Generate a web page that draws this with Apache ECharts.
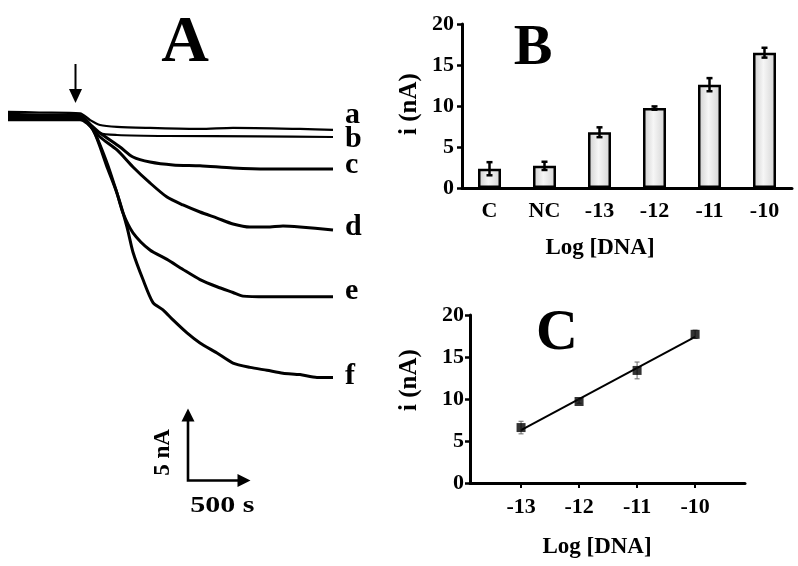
<!DOCTYPE html>
<html><head><meta charset="utf-8">
<script src="https://cdn.jsdelivr.net/npm/echarts@6/dist/echarts.min.js"></script>
<style>html,body{margin:0;padding:0;background:#fff}#c{width:798px;height:566px}</style>
</head><body><div id="c"></div>
<script>
const FONT = '"Liberation Serif","Times New Roman",serif';

// ---------- Panel A: amperometric traces [time (s), current change (nA)] ----------
const traceNames = ['a', 'b', 'c', 'd', 'e', 'f'];
const traceA = [[0,0.25],[250,0.2],[576,0.15],[656,-0.32],[736,-0.67],[872,-0.8],[1136,-0.87],[1536,-0.94],[1800,-0.87],[2336,-0.94],[2600,-1.0]];
const traceB = [[0,0.1],[300,0.05],[576,0],[632,-0.46],[736,-1.22],[872,-1.36],[1272,-1.43],[2000,-1.45],[2600,-1.5]];
const traceC = [[0,0],[576,0],[656,-0.6],[736,-1.22],[896,-2.19],[1000,-2.89],[1136,-3.24],[1320,-3.44],[1536,-3.5],[1800,-3.65],[2072,-3.72],[2336,-3.72],[2600,-3.72]];
const traceD = [[0,-0.1],[576,-0.1],[656,-0.7],[736,-1.5],[872,-2.4],[1000,-3.58],[1136,-4.69],[1272,-5.67],[1400,-6.22],[1536,-6.71],[1672,-7.13],[1800,-7.54],[1936,-7.75],[2072,-7.75],[2200,-7.68],[2336,-7.75],[2600,-7.96]];
const traceE = [[0,-0.2],[576,-0.2],[680,-1.0],[792,-3.3],[872,-5.4],[920,-6.78],[1000,-8.15],[1136,-9.35],[1272,-10.0],[1400,-10.7],[1536,-11.4],[1672,-11.9],[1800,-12.3],[1880,-12.55],[2072,-12.6],[2336,-12.6],[2600,-12.6]];
const traceF = [[0,-0.3],[576,-0.3],[680,-1.0],[792,-3.58],[872,-5.4],[952,-7.75],[1000,-9.5],[1080,-11.4],[1160,-13.0],[1240,-13.5],[1320,-14.2],[1432,-15.1],[1536,-15.8],[1672,-16.5],[1800,-17.2],[1936,-17.5],[2072,-17.7],[2200,-17.9],[2336,-18.0],[2472,-18.2],[2600,-18.2]];
const tracesA = [traceA, traceB, traceC, traceD, traceE, traceF];
const injectionTime = 540;      // s, arrow
const scaleBarTime = 500;       // s
const scaleBarCurrent = 5;      // nA

// ---------- Panel B: bar chart ----------
const catsB = ['C', 'NC', '-13', '-12', '-11', '-10'];
const valsB = [2.35, 2.7, 6.8, 9.75, 12.6, 16.5];
const errB  = [0.8, 0.5, 0.6, 0.2, 0.8, 0.6];

// ---------- Panel C: calibration ----------
const logC  = [-13, -12, -11, -10];
const valsC = [6.6, 9.7, 13.4, 17.7];
const errC  = [0.75, 0.2, 1.0, 0.5];
const yTicks = [0, 5, 10, 15, 20];

// styling only
const lineWidthsA = [2.2, 2.2, 3, 3, 3, 3];
const labelDyA = [-15, 2, -4, -3, -6, -1];

// least-squares fit of panel C
const mx = logC.reduce((s, v) => s + v, 0) / logC.length;
const my = valsC.reduce((s, v) => s + v, 0) / valsC.length;
let sxy = 0, sxx = 0;
logC.forEach((x, i) => { sxy += (x - mx) * (valsC[i] - my); sxx += (x - mx) * (x - mx); });
const slope = sxy / sxx, icpt = my - slope * mx;
const fitLine = [logC[0], logC[logC.length - 1]].map(x => [x, slope * x + icpt]);

function errRender(capW, lw, color) {
  return function (params, api) {
    const x = api.value(0), lo = api.value(1), hi = api.value(2);
    const p1 = api.coord([x, lo]), p2 = api.coord([x, hi]);
    const st = { stroke: color, lineWidth: lw };
    return { type: 'group', children: [
      { type: 'line', shape: { x1: p1[0], y1: p1[1], x2: p2[0], y2: p2[1] }, style: st },
      { type: 'line', shape: { x1: p1[0] - capW, y1: p1[1], x2: p1[0] + capW, y2: p1[1] }, style: st },
      { type: 'line', shape: { x1: p2[0] - capW, y1: p2[1], x2: p2[0] + capW, y2: p2[1] }, style: st }
    ]};
  };
}

const lbl = (size) => ({ color: '#000', fontFamily: FONT, fontWeight: 'bold', fontSize: size });

const chart = echarts.init(document.getElementById('c'), null, { renderer: 'canvas' });

const option = {
  animation: false,
  backgroundColor: '#fff',
  grid: [
    { left: 8, top: 101, width: 325, height: 288 },
    { left: 462, top: 24, width: 330, height: 164 },
    { left: 470, top: 315, width: 275, height: 168 }
  ],
  xAxis: [
    { gridIndex: 0, type: 'value', min: 0, max: 2600, show: false },
    { gridIndex: 1, type: 'category', data: catsB,
      axisLine: { lineStyle: { color: '#000', width: 3 } },
      axisTick: { show: false },
      axisLabel: Object.assign({ margin: 12 }, lbl(22)) },
    { gridIndex: 2, type: 'value', min: -13.88, max: -9.14,
      splitLine: { show: false },
      axisLine: { onZero: false, lineStyle: { color: '#000', width: 3 } },
      axisTick: { customValues: logC, length: 5, lineStyle: { color: '#000', width: 2 } },
      axisLabel: Object.assign({ customValues: logC, margin: 13, formatter: v => String(Math.round(v)) }, lbl(22)) }
  ],
  yAxis: [
    { gridIndex: 0, type: 'value', min: -19, max: 1, show: false },
    { gridIndex: 1, type: 'value', min: 0, max: 20, interval: 5,
      splitLine: { show: false },
      axisLine: { show: true, lineStyle: { color: '#000', width: 3 } },
      axisTick: { show: true, length: 5, lineStyle: { color: '#000', width: 2.5 } },
      axisLabel: Object.assign({ margin: 8 }, lbl(22)) },
    { gridIndex: 2, type: 'value', min: 0, max: 20,
      splitLine: { show: false },
      axisLine: { show: true, onZero: false, lineStyle: { color: '#000', width: 3 } },
      axisTick: { show: true, customValues: yTicks, length: 5, lineStyle: { color: '#000', width: 2.5 } },
      axisLabel: Object.assign({ customValues: yTicks, margin: 6 }, lbl(22)) }
  ],
  series: [
    ...tracesA.map((d, i) => ({
      type: 'line', name: traceNames[i], xAxisIndex: 0, yAxisIndex: 0, data: d,
      showSymbol: false, symbol: 'none', smooth: 0.25,
      lineStyle: { color: '#000', width: lineWidthsA[i] },
      endLabel: Object.assign({ show: true, formatter: '{a}', distance: 12, offset: [0, labelDyA[i]] }, lbl(30))
    })),
    { type: 'bar', xAxisIndex: 1, yAxisIndex: 1, data: valsB, barWidth: 23,
      itemStyle: { borderColor: '#000', borderWidth: 2.5,
        color: { type: 'linear', x: 0, y: 0, x2: 1, y2: 0, colorStops: [
          { offset: 0, color: '#cccccc' }, { offset: 0.45, color: '#f6f6f6' }, { offset: 1, color: '#d2d2d2' } ] } } },
    { type: 'custom', xAxisIndex: 1, yAxisIndex: 1, z: 5,
      data: valsB.map((v, i) => [i, v - errB[i], v + errB[i]]),
      renderItem: errRender(3, 2.5, '#000') },
    { type: 'line', xAxisIndex: 2, yAxisIndex: 2, data: fitLine, showSymbol: false, symbol: 'none',
      lineStyle: { color: '#000', width: 2 } },
    { type: 'custom', xAxisIndex: 2, yAxisIndex: 2, z: 5,
      data: valsC.map((v, i) => [logC[i], v - errC[i], v + errC[i]]),
      renderItem: errRender(2.5, 1, '#666') },
    { type: 'scatter', xAxisIndex: 2, yAxisIndex: 2, z: 6, data: logC.map((x, i) => [x, valsC[i]]),
      symbol: 'rect', symbolSize: 9, itemStyle: { color: '#000' } }
  ]
};
chart.setOption(option);

// annotations (panel letters, axis titles, injection arrow, scale bar)
const px = (t, v) => chart.convertToPixel({ gridIndex: 0 }, [t, v]);
const inj = px(injectionTime, 0);
const origin = px(1440, -25.35);
const vTop = px(1440, -25.35 + scaleBarCurrent);
const hEnd = px(1440 + scaleBarTime, -25.35);
const txt = (text, x, y, size, rot, sx) => ({
  type: 'text', x, y, rotation: rot || 0, scaleX: sx || 1, z: 10,
  style: { text, fill: '#000', font: 'bold ' + size + 'px ' + FONT, textAlign: 'center', textVerticalAlign: 'middle' }
});
const head = 6.5, hl = 13;
chart.setOption({
  graphic: [
    txt('A', 185, 44, 66),
    txt('B', 533, 49, 58),
    txt('C', 557, 334, 58),
    txt('i (nA)', 410, 104, 25, Math.PI / 2),
    txt('i (nA)', 410, 380, 25, Math.PI / 2),
    txt('Log [DNA]', 600, 248, 23),
    txt('Log [DNA]', 597, 547, 23),
    txt('5 nA', origin[0] - 25, (origin[1] + vTop[1]) / 2 + 8, 23, Math.PI / 2),
    txt('500 s', (origin[0] + hEnd[0]) / 2 + 3, origin[1] + 25, 24, 0, 1.25),
    // injection arrow
    { type: 'line', z: 10, shape: { x1: inj[0], y1: 64, x2: inj[0], y2: 92 }, style: { stroke: '#000', lineWidth: 2 } },
    { type: 'polygon', z: 10, shape: { points: [[inj[0] - head, 89], [inj[0] + head, 89], [inj[0], 103]] }, style: { fill: '#000' } },
    // scale bar
    { type: 'polyline', z: 10, shape: { points: [[origin[0], vTop[1] + hl - 2], [origin[0], origin[1]], [hEnd[0] - hl + 2, origin[1]]] },
      style: { stroke: '#000', lineWidth: 2.6, fill: null } },
    { type: 'polygon', z: 10, shape: { points: [[origin[0] - head, vTop[1] + hl], [origin[0] + head, vTop[1] + hl], [origin[0], vTop[1]]] }, style: { fill: '#000' } },
    { type: 'polygon', z: 10, shape: { points: [[hEnd[0] - hl, origin[1] - head], [hEnd[0] - hl, origin[1] + head], [hEnd[0], origin[1]]] }, style: { fill: '#000' } }
  ]
});
</script>
</body></html>
